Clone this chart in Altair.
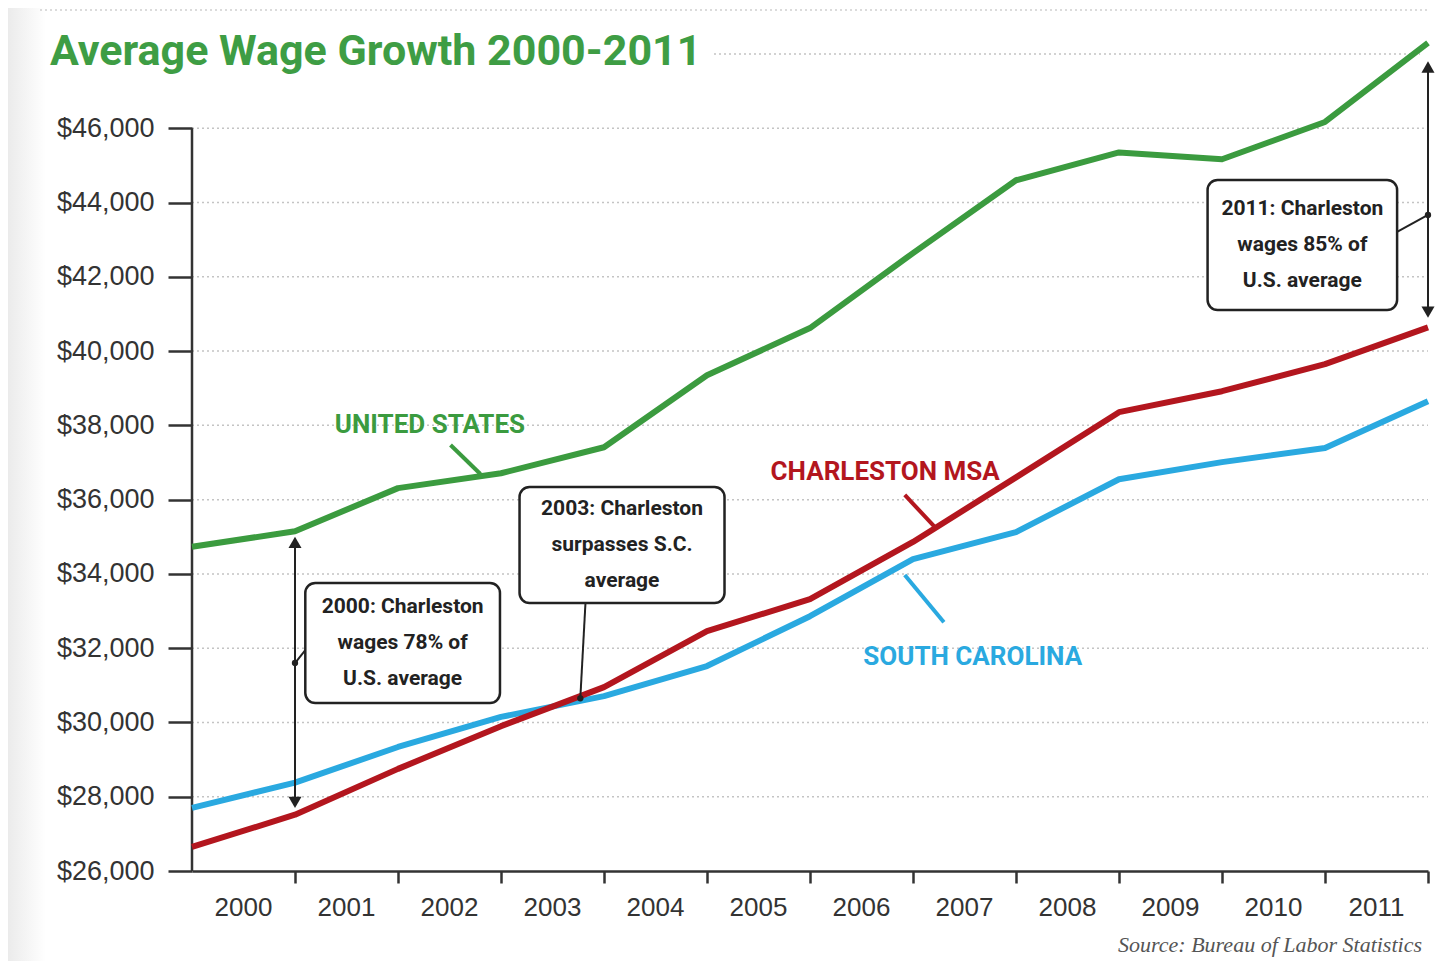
import altair as alt
import pandas as pd

# ---------------- data ----------------
idx = list(range(13))
us = [34730, 35150, 36310, 36710, 37410, 39350, 40620, 42640, 44600, 45350, 45165, 46170, 48300]
charleston = [26650, 27515, 28750, 29900, 30950, 32460, 33320, 34860, 36600, 38355, 38920, 39650, 40640]
sc = [27700, 28380, 29340, 30150, 30710, 31520, 32860, 34400, 35125, 36550, 37010, 37390, 38650]
years = ["2000", "2001", "2002", "2003", "2004", "2005", "2006", "2007", "2008", "2009", "2010", "2011"]
series_names = ["United States", "South Carolina", "Charleston MSA"]
series_colors = ["#3b9b3f", "#2aa9e0", "#b3161e"]
label_colors = ["#3b9b3f", "#5ab6e6", "#b3161e"]
y_ticks = list(range(26000, 46001, 2000))
grid_vals = list(range(28000, 46001, 2000))

W, H = 1236, 817
FONT_C = "Roboto, sans-serif"
FONT = "Liberation Sans, Arial, sans-serif"

rows = []
for name, vals in zip(series_names, [us, sc, charleston]):
    for i, v in zip(idx, vals):
        rows.append({"i": i, "v": v, "series": name})
df = pd.DataFrame(rows)

xs = alt.Scale(domain=[0, 12], nice=False, zero=False)
ys = alt.Scale(domain=[26000, 48000], nice=False, zero=False)
cs = alt.Scale(domain=series_names, range=series_colors)
cs_lab = alt.Scale(domain=series_names, range=label_colors)

x_axis = alt.Axis(values=list(range(1, 13)), labels=False, tickSize=12, tickWidth=2.5, tickColor="#333",
                  domain=True, domainColor="#333", domainWidth=2.5, grid=False, title=None)
y_axis = alt.Axis(values=y_ticks, format="$,d", tickSize=24, tickWidth=2.5, tickColor="#333",
                  labelPadding=14, labelFontSize=27, labelFont=FONT, labelColor="#333",
                  domain=False, grid=False, title=None, zindex=1)


def X(f="i"):
    return alt.X(f"{f}:Q", scale=xs, axis=x_axis)


def Y(f="v"):
    return alt.Y(f"{f}:Q", scale=ys, axis=y_axis)


# decorative left gradient strip
strip = alt.Chart(pd.DataFrame({"v": [0]})).mark_rect(
    color=alt.Gradient(gradient="linear", x1=0, x2=1, y1=0, y2=0,
                       stops=[alt.GradientStop(color="#ebebeb", offset=0),
                              alt.GradientStop(color="#ffffff", offset=1)])).encode(
    x=alt.value(-184), x2=alt.value(-146), y=alt.value(-46), y2=alt.value(H + 90))

grid = alt.Chart(pd.DataFrame({"v": grid_vals})).mark_rule(
    color="#c4c4c4", strokeDash=[2, 3], strokeWidth=1.5).encode(
    y=Y(), x=alt.value(0), x2=alt.value(W))
grid_top = alt.Chart(pd.DataFrame({"v": [48000]})).mark_rule(
    color="#c4c4c4", strokeDash=[2, 3], strokeWidth=1.5).encode(
    y=Y(), x=alt.value(522), x2=alt.value(W - 8))
decor = alt.Chart(pd.DataFrame({"v": [0]})).mark_rule(
    color="#d0d0d0", strokeDash=[2, 3], strokeWidth=1.5).encode(
    y=alt.value(-44), x=alt.value(-152), x2=alt.value(W))

ydomain = alt.Chart(pd.DataFrame({"i": [0], "v": [26000], "v2": [46000]})).mark_rule(
    color="#333", strokeWidth=2.5).encode(x=X(), y=Y(), y2="v2:Q")

lines = alt.Chart(df).mark_line(strokeWidth=6, strokeJoin="round").encode(
    x=X(), y=Y(), color=alt.Color("series:N", scale=cs, legend=None),
    order=alt.Order("i:Q"))

# pointer lines from labels
ptr = pd.DataFrame({
    "series": ["United States", "Charleston MSA", "South Carolina"],
    "i": [2.51, 6.92, 6.92], "v": [37470, 36125, 33970],
    "i2": [2.80, 7.22, 7.30], "v2": [36690, 35240, 32700],
})
pointers = alt.Chart(ptr).mark_rule(strokeWidth=4).encode(
    x=X(), y=Y(), x2="i2:Q", y2="v2:Q",
    color=alt.Color("series:N", scale=cs_lab, legend=None))

lab = pd.DataFrame({
    "series": ["United States", "Charleston MSA", "South Carolina"],
    "txt": ["UNITED STATES", "CHARLESTON MSA", "SOUTH CAROLINA"],
    "i": [2.31, 6.73, 7.58], "v": [38010, 36744, 31762],
})
labels = alt.Chart(lab).mark_text(font=FONT_C, fontSize=26, fontWeight="bold", baseline="middle").encode(
    x=X(), y=Y(), text="txt:N",
    color=alt.Color("series:N", scale=cs_lab, legend=None))

# annotation boxes
boxes_df = pd.DataFrame({
    "i": [1.10, 3.18, 9.86], "i2": [2.99, 5.17, 11.70],
    "v": [33755, 36340, 44607], "v2": [30524, 33216, 41106],
    "txt": ["2000: Charleston\nwages 78% of\nU.S. average",
            "2003: Charleston\nsurpasses S.C.\naverage",
            "2011: Charleston\nwages 85% of\nU.S. average"],
})
boxes_df["ic"] = (boxes_df["i"] + boxes_df["i2"]) / 2
boxes_df["vc"] = (boxes_df["v"] + boxes_df["v2"]) / 2
boxes = alt.Chart(boxes_df).mark_rect(cornerRadius=10, fill="white", stroke="#222", strokeWidth=2.5).encode(
    x=X(), x2="i2:Q", y=Y(), y2="v2:Q")
box_text = alt.Chart(boxes_df).mark_text(font=FONT_C, fontSize=21, fontWeight="bold", color="#222",
                                         lineBreak="\n", lineHeight=36, baseline="middle", dy=-36).encode(
    x=X("ic"), y=Y("vc"), text="txt:N")

# double arrows
arr = pd.DataFrame({"i": [1, 12], "v": [34850, 47650], "v2": [27850, 41050]})
arrows = alt.Chart(arr).mark_rule(color="#222", strokeWidth=2).encode(x=X(), y=Y(), y2="v2:Q")
heads_up = alt.Chart(arr).mark_point(shape="triangle-up", filled=True, color="#222", size=170, opacity=1).encode(
    x=X(), y=Y())
heads_dn = alt.Chart(arr).mark_point(shape="triangle-down", filled=True, color="#222", size=170, opacity=1).encode(
    x=X(), y=Y("v2"))

# connectors
conn = pd.DataFrame({"i": [1.0, 3.77, 12.0], "v": [31600, 30650, 43665],
                     "i2": [1.10, 3.82, 11.70], "v2": [31950, 33216, 43207]})
connectors = alt.Chart(conn).mark_rule(color="#222", strokeWidth=2).encode(
    x=X(), y=Y(), x2="i2:Q", y2="v2:Q")
dots = alt.Chart(conn).mark_point(filled=True, color="#222", size=40, opacity=1).encode(x=X(), y=Y())

# year labels
yl = pd.DataFrame({"i": [k + 0.5 for k in range(12)], "txt": years})
year_labels = alt.Chart(yl).mark_text(font=FONT, fontSize=26, color="#333", baseline="middle").encode(
    x=X(), y=alt.value(H + 37), text="txt:N")

title = alt.Chart(pd.DataFrame({"t": ["Average Wage Growth 2000-2011"]})).mark_text(
    font=FONT_C, fontSize=43, fontWeight="bold", color="#3e9d44", align="left", baseline="middle").encode(
    x=alt.value(-142), y=alt.value(-2), text="t:N")

source = alt.Chart(pd.DataFrame({"t": ["Source: Bureau of Labor Statistics"]})).mark_text(
    font="Liberation Serif, DejaVu Serif, serif", fontStyle="italic", fontSize=22, color="#555",
    align="right", baseline="middle").encode(
    x=alt.value(1230), y=alt.value(891), text="t:N")

chart = alt.layer(
    strip, decor, grid, grid_top, ydomain, lines, pointers, labels,
    arrows, heads_up, heads_dn, connectors, dots, boxes, box_text,
    year_labels, title, source,
).properties(
    width=W, height=H,
    autosize=alt.AutoSizeParams(type="none"),
    padding={"left": 184, "top": 46, "right": 8, "bottom": 90},
    background="white",
).configure_view(stroke=None)

chart.save("out.html", embed_options={"renderer": "svg", "actions": False})
